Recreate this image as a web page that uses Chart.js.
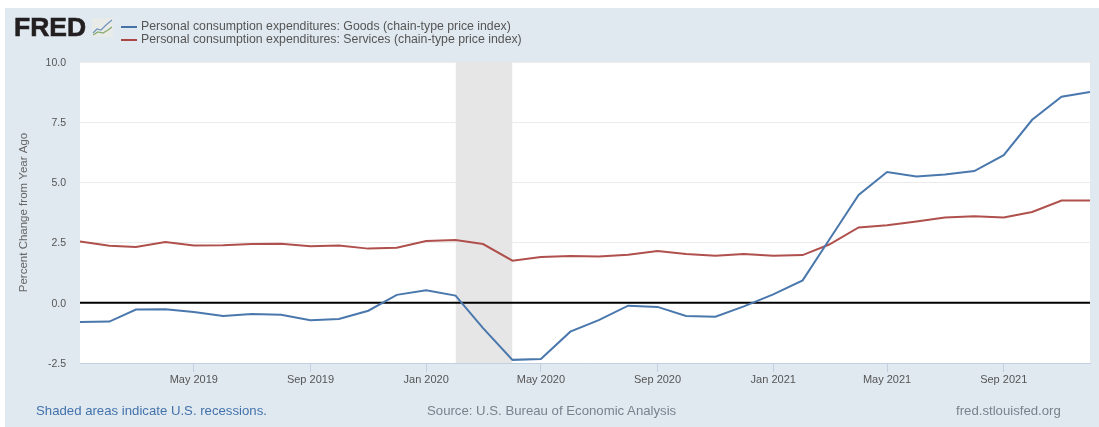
<!DOCTYPE html>
<html>
<head>
<meta charset="utf-8">
<script src="https://cdn.jsdelivr.net/npm/chart.js@4/dist/chart.umd.min.js"></script>
<style>
  html, body { margin: 0; padding: 0; background: #fff; overflow: hidden; }
  body { width: 1099px; height: 427px; position: relative; font-family: "Liberation Sans", Arial, sans-serif; }
  #panel { position: absolute; left: 5px; top: 8px; width: 1094px; height: 419px; background: #e1e9f0; }
  #chart { position: absolute; left: 0; top: 0; }
  .txt { position: absolute; white-space: nowrap; }
  #logo { left: 14px; top: 12px; font-size: 26.5px; font-weight: bold; color: #231f20; letter-spacing: 0px; -webkit-text-stroke: 0.6px #231f20; }
  #icon { position: absolute; left: 92px; top: 18px; }
  .swatch { position: absolute; left: 121px; width: 16px; height: 2px; }
  .leg { left: 141px; font-size: 12.3px; color: #555; }
  #recess { left: 36px; top: 403px; font-size: 13.2px; color: #4272ab; }
  #source { left: 427px; top: 403px; font-size: 13.2px; color: #77828d; }
  #site { left: 956px; top: 403px; font-size: 13.2px; color: #77828d; }
</style>
</head>
<body>
<div id="panel"></div>
<canvas id="chart" width="1099" height="427"></canvas>
<div class="txt" id="logo">FRED</div>
<svg id="icon" width="21" height="19">
  <rect x="0" y="0" width="21" height="19" fill="#e9ebe9"></rect>
  <polyline points="1,15 5,11 9,12 14,7 20,2" fill="none" stroke="#6f95bf" stroke-width="1.2"></polyline>
  <polyline points="1,17 6,14 11,15 16,12 20,9" fill="none" stroke="#86aa6c" stroke-width="1.2"></polyline>
</svg>
<div class="swatch" style="top:26px;background:#4572a7"></div>
<div class="txt leg" style="top:19px" id="leg0"></div>
<div class="swatch" style="top:39px;background:#aa4643"></div>
<div class="txt leg" style="top:32px" id="leg1"></div>
<div class="txt" id="recess">Shaded areas indicate U.S. recessions.</div>
<div class="txt" id="source">Source: U.S. Bureau of Economic Analysis</div>
<div class="txt" id="site">fred.stlouisfed.org</div>
<script>
const months = [
  "2019-01", "2019-02", "2019-03", "2019-04", "2019-05", "2019-06", "2019-07", "2019-08", "2019-09", "2019-10", "2019-11", "2019-12",
  "2020-01", "2020-02", "2020-03", "2020-04", "2020-05", "2020-06", "2020-07", "2020-08", "2020-09", "2020-10", "2020-11", "2020-12",
  "2021-01", "2021-02", "2021-03", "2021-04", "2021-05", "2021-06", "2021-07", "2021-08", "2021-09", "2021-10", "2021-11", "2021-12"
];
const goods = [
  -0.80, -0.78, -0.28, -0.27, -0.38, -0.55, -0.47, -0.50, -0.72, -0.67, -0.33, 0.33,
  0.52, 0.30, -1.05, -2.37, -2.33, -1.20, -0.72, -0.12, -0.17, -0.55, -0.58, -0.15,
  0.35, 0.93, 2.62, 4.48, 5.43, 5.25, 5.33, 5.47, 6.13, 7.60, 8.56, 8.75
];
const services = [
  2.55, 2.37, 2.32, 2.52, 2.38, 2.39, 2.44, 2.45, 2.35, 2.38, 2.25, 2.29,
  2.57, 2.61, 2.44, 1.75, 1.90, 1.94, 1.92, 2.00, 2.15, 2.03, 1.95, 2.03,
  1.95, 1.98, 2.42, 3.13, 3.22, 3.38, 3.54, 3.59, 3.54, 3.77, 4.25, 4.25
];
const seriesNames = [
  "Personal consumption expenditures: Goods (chain-type price index)",
  "Personal consumption expenditures: Services (chain-type price index)"
];
const xTickMonths = ["2019-05", "2019-09", "2020-01", "2020-05", "2020-09", "2021-01", "2021-05", "2021-09"];
const xTickLabels = ["May 2019", "Sep 2019", "Jan 2020", "May 2020", "Sep 2020", "Jan 2021", "May 2021", "Sep 2021"];
const yTicks = [-2.5, 0, 2.5, 5, 7.5, 10];
const recession = ["2020-02", "2020-04"];

document.getElementById("leg0").textContent = seriesNames[0];
document.getElementById("leg1").textContent = seriesNames[1];

// days since first month, so the x axis spaces months like a real time axis
const dayOf = (m) => (Date.parse(m + "-01T00:00:00Z") - Date.parse(months[0] + "-01T00:00:00Z")) / 86400000;
const toPoints = (vals) => vals.map((v, i) => ({ x: dayOf(months[i]), y: v }));
const xMax = dayOf(months[months.length - 1]);

new Chart(document.getElementById("chart"), {
  type: "line",
  data: {
    datasets: [
      {
        label: seriesNames[0],
        data: toPoints(goods),
        borderColor: "#4a78ad",
        borderWidth: 2,
        pointRadius: 0,
        order: 1,
      },
      {
        label: seriesNames[1],
        data: toPoints(services),
        borderColor: "#b0504d",
        borderWidth: 2,
        pointRadius: 0,
        order: 2,
      },
      {
        label: "zero",
        data: [{ x: 0, y: 0 }, { x: xMax, y: 0 }],
        borderColor: "#000",
        borderWidth: 2,
        pointRadius: 0,
        order: 3,
      },
      {
        label: "recession",
        data: recession.map((m) => ({ x: dayOf(m), y: 10 })),
        borderWidth: 0,
        pointRadius: 0,
        fill: "start",
        backgroundColor: "#e6e6e6",
        order: 4,
      },
    ],
  },
  options: {
    responsive: false,
    animation: false,
    layout: { padding: { top: 62, right: 9, bottom: 34, left: 0 } },
    plugins: {
      legend: { display: false },
      tooltip: { enabled: false },
    },
    scales: {
      x: {
        type: "linear",
        min: 0,
        max: xMax,
        afterBuildTicks: (axis) => {
          axis.ticks = xTickMonths.map((m) => ({ value: dayOf(m) }));
        },
        afterFit: (axis) => { axis.height = 30; },
        grid: {
          drawOnChartArea: false,
          color: "#c0d0e0",
          tickLength: 9,
        },
        border: { color: "#c0d0e0" },
        ticks: {
          autoSkip: false,
          maxRotation: 0,
          padding: 1,
          color: "#555",
          font: { family: "Liberation Sans", size: 11 },
          callback: (value) => xTickLabels[xTickMonths.findIndex((m) => dayOf(m) === value)],
        },
      },
      y: {
        min: -2.5,
        max: 10,
        afterBuildTicks: (axis) => {
          axis.ticks = yTicks.map((v) => ({ value: v }));
        },
        afterFit: (axis) => { axis.width = 80; },
        grid: { color: "#ebebeb", drawTicks: false },
        border: { display: false },
        title: {
          display: true,
          text: "Percent Change from Year Ago",
          color: "#666",
          font: { family: "Liberation Sans", size: 11.5 },
          padding: { top: 17, bottom: 0 },
        },
        ticks: {
          padding: 14,
          labelOffset: 1,
          color: "#555",
          font: { family: "Liberation Sans", size: 10.5 },
          callback: (value) => value.toFixed(1),
        },
      },
    },
  },
  plugins: [
    {
      id: "plotBack",
      beforeDraw(chart) {
        const a = chart.chartArea;
        chart.ctx.save();
        chart.ctx.fillStyle = "#fff";
        chart.ctx.fillRect(a.left, a.top, a.right - a.left, a.bottom - a.top);
        chart.ctx.restore();
      },
    },
  ],
});
</script>
</body>
</html>
